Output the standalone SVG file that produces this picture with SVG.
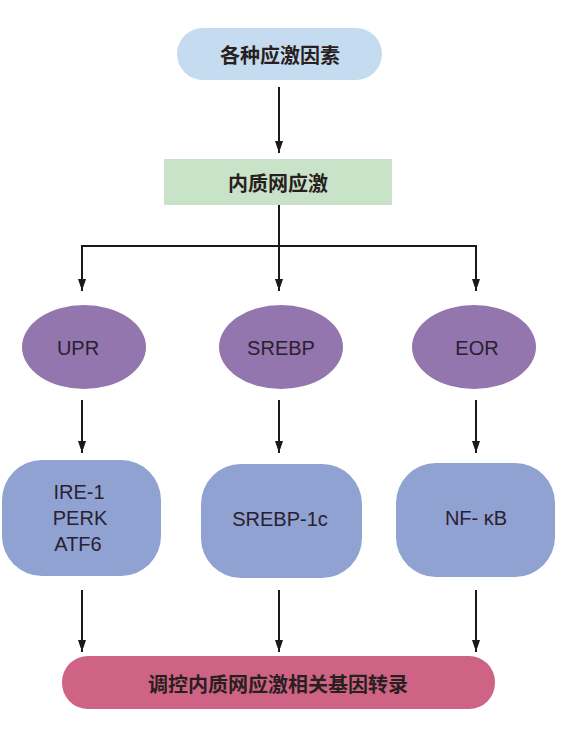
<svg xmlns="http://www.w3.org/2000/svg" width="569" height="729" viewBox="0 0 569 729">
<defs>
<marker id="ah" markerWidth="8" markerHeight="12" refX="4" refY="11" orient="auto-start-reverse" markerUnits="userSpaceOnUse">
<path d="M0,0 L8,0 L4,12 Z" fill="#1a1a1a" transform="rotate(0)"/>
</marker>
<marker id="arr" viewBox="0 0 8 12" markerWidth="8" markerHeight="12" refX="12" refY="4" orient="auto" markerUnits="userSpaceOnUse">
<path d="M0,0 L12,4 L0,8 Z" fill="#1a1a1a"/>
</marker>
<style>
.cn{font-family:"Noto Sans CJK SC",sans-serif;font-weight:bold;font-size:20px;fill:#2a1f1f;text-anchor:middle;dominant-baseline:central}
.en{font-family:"Liberation Sans",Arial,sans-serif;font-size:20px;fill:#2a2030;text-anchor:middle;dominant-baseline:central}
.ln{stroke:#1a1a1a;stroke-width:2;fill:none}
.ar{stroke:#1a1a1a;stroke-width:2;fill:none;marker-end:url(#arr)}
.ell{fill:#9276ad}
.box{fill:#8fa2d2}
</style>
</defs>
<rect width="569" height="729" fill="#ffffff"/>
<g id="connectors">
<path class="ar" d="M279,87 V153"/>
<path class="ln" d="M279,205 V246"/>
<path class="ln" d="M82,246 H476"/>
<path class="ar" d="M82,245 V291"/>
<path class="ar" d="M279,246 V291"/>
<path class="ar" d="M476,245 V291"/>
<path class="ar" d="M82,400 V453"/>
<path class="ar" d="M279,400 V453"/>
<path class="ar" d="M476,400 V453"/>
<path class="ar" d="M82,590 V652"/>
<path class="ar" d="M279,590 V652"/>
<path class="ar" d="M476,590 V652"/>
</g>
<g id="n_stress">
<rect x="177" y="28" width="205" height="52" rx="26" fill="#c5dcf0"/>
<text class="cn" x="280" y="54">各种应激因素</text>
</g>
<g id="n_er">
<rect x="164" y="159" width="228" height="46" fill="#c9e3c9"/>
<text class="cn" x="278" y="182">内质网应激</text>
</g>
<g id="n_upr">
<ellipse class="ell" cx="84" cy="347" rx="62" ry="42"/>
<text class="en" x="78" y="348">UPR</text>
</g>
<g id="n_srebp">
<ellipse class="ell" cx="281" cy="347" rx="62" ry="42"/>
<text class="en" x="281" y="348">SREBP</text>
</g>
<g id="n_eor">
<ellipse class="ell" cx="474" cy="347" rx="62" ry="42"/>
<text class="en" x="477" y="348">EOR</text>
</g>
<g id="n_ire">
<rect class="box" x="2" y="460" width="159" height="116" rx="40"/>
<text class="en" x="79" y="492">IRE-1</text>
<text class="en" x="80" y="518">PERK</text>
<text class="en" x="78" y="544">ATF6</text>
</g>
<g id="n_srebp1c">
<rect class="box" x="201" y="464" width="161" height="114" rx="40"/>
<text class="en" x="280" y="519">SREBP-1c</text>
</g>
<g id="n_nfkb">
<rect class="box" x="396" y="463" width="159" height="114" rx="40"/>
<text class="en" x="476" y="518">NF- κB</text>
</g>
<g id="n_reg">
<rect x="62" y="656" width="433" height="53" rx="26" fill="#cf6386"/>
<text class="cn" x="278" y="683">调控内质网应激相关基因转录</text>
</g>
</svg>
